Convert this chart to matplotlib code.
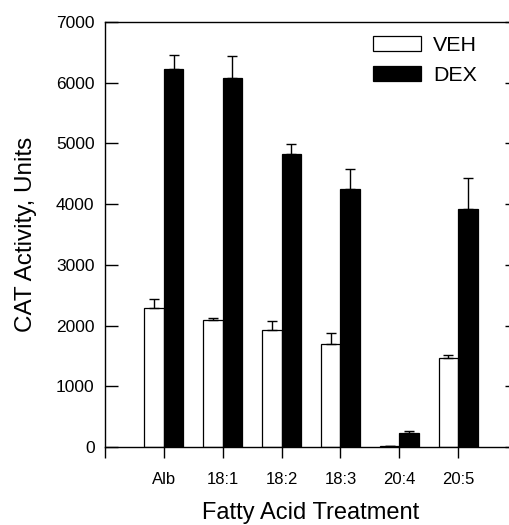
import numpy as np
import matplotlib
matplotlib.use("Agg")
import matplotlib.pyplot as plt

plt.rcParams['font.family'] = ['Liberation Sans', 'DejaVu Sans']

categories = ["Alb", "18:1", "18:2", "18:3", "20:4", "20:5"]
veh = [2295, 2092, 1933, 1697, 12, 1466]
veh_err = [140, 33, 148, 176, 0, 50]
dex = [6222, 6074, 4822, 4255, 231, 3926]
dex_err = [235, 370, 165, 320, 26, 500]

fig = plt.figure(figsize=(5.10, 5.25), dpi=100)
ax = fig.add_axes([105 / 510, 1 - 447 / 525, 412 / 510, 425 / 525])

x = np.arange(1, len(categories) + 1)
w = 0.33
zeros = np.zeros(len(categories))
ax.bar(x - w / 2, veh, width=w, color='white', edgecolor='black', linewidth=0.9, label='VEH', zorder=2)
ax.bar(x + w / 2, dex, width=w, color='black', edgecolor='black', linewidth=0.9, label='DEX', zorder=2)
ax.errorbar(x - w / 2, veh, yerr=[zeros, veh_err], fmt='none', ecolor='black', elinewidth=1, capsize=3.6, capthick=1, zorder=3)
ax.errorbar(x + w / 2, dex, yerr=[zeros, dex_err], fmt='none', ecolor='black', elinewidth=1, capsize=3.6, capthick=1, zorder=3)

ax.set_xlim(0, 7)
ax.set_ylim(0, 7000)
ax.set_xticks(np.arange(0, 7))
ax.set_xticklabels([""] + categories)
ax.set_yticks(np.arange(0, 7001, 1000))
ax.tick_params(axis='x', direction='out', length=8, width=1, labelsize=12, pad=10)
ax.tick_params(axis='y', direction='in', length=9, width=1, labelsize=12.5, right=True, pad=7.5)
for s in ax.spines.values():
    s.set_linewidth(1)

ax.set_xlabel("Fatty Acid Treatment", fontsize=17, labelpad=11)
ax.set_ylabel("CAT Activity, Units", fontsize=17.5, labelpad=14)

leg = ax.legend(loc='upper left', bbox_to_anchor=(373 / 510, 1 - 36 / 525), bbox_transform=fig.transFigure,
                frameon=False, fontsize=15.4, handlelength=2.25, handleheight=0.7, handletextpad=0.55,
                labelspacing=0.5, borderpad=0, borderaxespad=0)

fig.savefig("out.png", dpi=100)
